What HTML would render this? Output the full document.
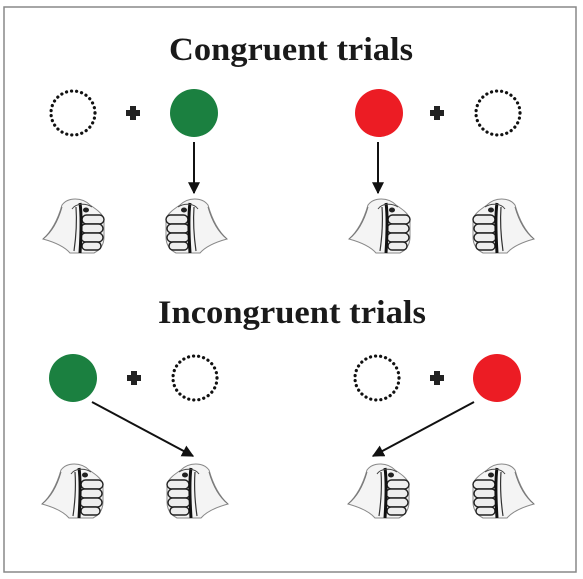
<!DOCTYPE html>
<html><head><meta charset="utf-8"><style>
html,body{margin:0;padding:0;background:#fff;}
svg{display:block;}
</style></head><body>
<svg width="583" height="579" viewBox="0 0 583 579" xmlns="http://www.w3.org/2000/svg">
<defs>
<g id="fist">
  <path d="M16,8 C24,0 38,0 44,8 C48,22 54,34 63,42 C52,45 42,49 36,56 L12,56 C4,52 2,46 2,40 L2,22 C4,16 10,12 16,8 Z" fill="#f4f4f4" stroke="#888" stroke-width="1"/>
  <path d="M44,10 C48,24 54,35 63,42" fill="none" stroke="#777" stroke-width="1"/>
  <g fill="#eee" stroke="#222" stroke-width="1.4">
    <rect x="2" y="18" width="22" height="9" rx="4.5"/>
    <rect x="3" y="27" width="22" height="9" rx="4.5"/>
    <rect x="3" y="36" width="22" height="9" rx="4.5"/>
    <rect x="5" y="45" width="19" height="8" rx="4"/>
  </g>
  <path d="M26,6 C24,20 25,40 26,56" fill="none" stroke="#111" stroke-width="3"/>
  <path d="M30,10 C29,24 30,40 32,54" fill="none" stroke="#333" stroke-width="1.2"/>
  <ellipse cx="20" cy="13" rx="3" ry="2.5" fill="#222"/>
  <path d="M14,10 C20,6 30,6 34,12" fill="none" stroke="#444" stroke-width="1"/>
</g>
<marker id="ah" viewBox="0 0 10 10" refX="9" refY="5" markerWidth="6" markerHeight="6" orient="auto">
  <path d="M0,0 L10,5 L0,10 Z" fill="#111"/>
</marker>
</defs>
<rect x="4" y="7" width="572" height="565" fill="#fff" stroke="#888" stroke-width="1.5"/>

<text x="291" y="60" text-anchor="middle" font-family="Liberation Serif, serif" font-weight="bold" font-size="33" fill="#1a1a1a" textLength="244" lengthAdjust="spacingAndGlyphs">Congruent trials</text>
<text x="292" y="323" text-anchor="middle" font-family="Liberation Serif, serif" font-weight="bold" font-size="33" fill="#1a1a1a" textLength="268" lengthAdjust="spacingAndGlyphs">Incongruent trials</text>

<g fill="none" stroke="#111" stroke-width="3.2" stroke-dasharray="0.1 5" stroke-linecap="round">
  <circle cx="73" cy="113" r="22"/>
  <circle cx="498" cy="113" r="22"/>
  <circle cx="195" cy="378" r="22"/>
  <circle cx="377" cy="378" r="22"/>
</g>
<circle cx="194" cy="113" r="24" fill="#1b8040"/>
<circle cx="379" cy="113" r="24" fill="#ec1c24"/>
<circle cx="73" cy="378" r="24" fill="#1b8040"/>
<circle cx="497" cy="378" r="24" fill="#ec1c24"/>

<g fill="#222">
  <rect x="126" y="110" width="14" height="6"/><rect x="130" y="106" width="6" height="14"/>
  <rect x="430" y="110" width="14" height="6"/><rect x="434" y="106" width="6" height="14"/>
  <rect x="127" y="375" width="14" height="6"/><rect x="131" y="371" width="6" height="14"/>
  <rect x="430" y="375" width="14" height="6"/><rect x="434" y="371" width="6" height="14"/>
</g>

<g stroke="#111" stroke-width="2" marker-end="url(#ah)">
  <line x1="194" y1="142" x2="194" y2="193"/>
  <line x1="378" y1="142" x2="378" y2="193"/>
  <line x1="92" y1="402" x2="193" y2="456"/>
  <line x1="474" y1="402" x2="373" y2="456"/>
</g>

<use href="#fist" transform="translate(106,197) scale(-1,1)"/>
<use href="#fist" transform="translate(164,197)"/>
<use href="#fist" transform="translate(412,197) scale(-1,1)"/>
<use href="#fist" transform="translate(471,197)"/>
<use href="#fist" transform="translate(105,462) scale(-1,1)"/>
<use href="#fist" transform="translate(165,462)"/>
<use href="#fist" transform="translate(411,462) scale(-1,1)"/>
<use href="#fist" transform="translate(471,462)"/>
</svg>
</body></html>
